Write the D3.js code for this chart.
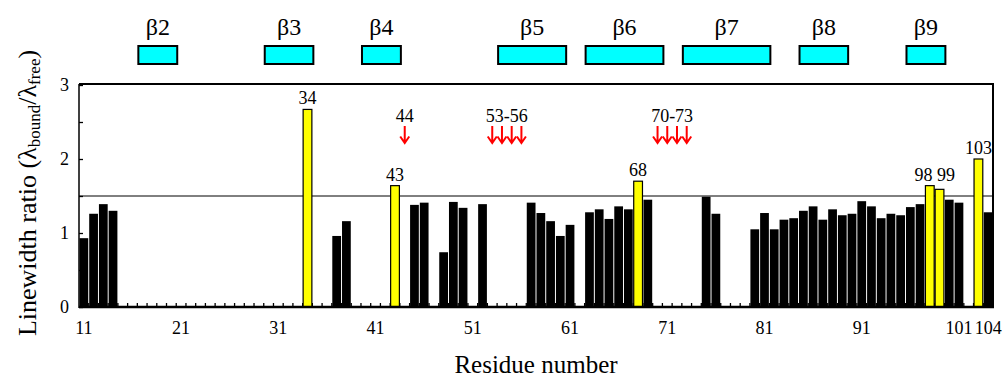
<!DOCTYPE html>
<html>
<head>
<meta charset="utf-8">
<script src="https://cdn.jsdelivr.net/npm/d3@7"></script>
<style>
  html, body { margin: 0; padding: 0; background: #fff; }
  svg { display: block; }
  text { font-family: "Liberation Serif", "Times New Roman", serif; fill: #000; }
</style>
</head>
<body>
<svg id="chart" width="1006" height="381"></svg>
<script>
// ---- Data ----
const residues = [11,12,13,14,34,37,38,43,45,46,48,49,50,52,57,58,59,60,61,63,64,65,66,67,68,69,75,76,80,81,82,83,84,85,86,87,88,89,90,91,92,93,94,95,96,97,98,99,100,101,103,104];
const ratios   = [0.93,1.26,1.39,1.30,2.67,0.96,1.16,1.64,1.38,1.41,0.74,1.42,1.34,1.39,1.41,1.27,1.16,0.96,1.11,1.28,1.32,1.19,1.36,1.32,1.70,1.45,1.49,1.26,1.05,1.27,1.05,1.18,1.20,1.30,1.36,1.18,1.32,1.24,1.26,1.43,1.36,1.20,1.26,1.24,1.35,1.39,1.64,1.59,1.45,1.41,2.00,1.28];
const highlighted = [34,43,68,98,99,103];
const labelTexts = ["34","43","68","98 99","103"];
const labelResidues = [[34],[43],[68],[98,99],[103]];
const arrowTexts = ["44","53-56","70-73"];
const arrowResidues = [[44],[53,54,55,56],[70,71,72,73]];
const ssNames = ["β2","β3","β4","β5","β6","β7","β8","β9"];
const ssStart = [17,30,40,54,63,73,85,96];
const ssEnd   = [20,34,43,60,70,81,89,99];
const xTickValues = [11,21,31,41,51,61,71,81,91,101,104];
const yTickValues = [0,1,2,3];
const yMinorTicks = [0.5,1.5,2.5];
const threshold = 1.5;
const firstRes = 11, lastRes = 104;

// ---- Layout ----
const svg = d3.select("#chart");
const L = 79, R = 993, T = 85, B = 307;
const allRes = d3.range(firstRes, lastRes + 1);
const x = d3.scaleBand().domain(allRes).range([L, R]).paddingInner(0.1).paddingOuter(0.05);
const xLin = d3.scaleLinear().domain([firstRes - 0.5, lastRes + 0.5]).range([L, R]);
const y = d3.scaleLinear().domain([0, 3]).range([B, T]);
const valueOf = new Map(residues.map((r, i) => [r, ratios[i]]));

// minor x ticks at residue boundaries
svg.append("g").selectAll("line").data(d3.range(firstRes, lastRes))
  .join("line")
  .attr("x1", d => xLin(d + 0.5)).attr("x2", d => xLin(d + 0.5))
  .attr("y1", B).attr("y2", B - 4)
  .attr("stroke", "#000").attr("stroke-width", 1.3);

// threshold line
svg.append("line")
  .attr("x1", L).attr("x2", R)
  .attr("y1", y(threshold)).attr("y2", y(threshold))
  .attr("stroke", "#000").attr("stroke-width", 1);

// bars
const bw = xLin(1) - xLin(0);
svg.append("g").selectAll("rect").data(residues)
  .join("rect")
  .attr("x", d => xLin(d) - bw * 0.45)
  .attr("width", bw * 0.9)
  .attr("y", d => y(valueOf.get(d)))
  .attr("height", d => B - y(valueOf.get(d)))
  .attr("fill", d => highlighted.includes(d) ? "#ffff00" : "#000")
  .attr("stroke", "#000")
  .attr("stroke-width", d => highlighted.includes(d) ? 1.2 : 0);

// frame
svg.append("line").attr("x1", L).attr("x2", L).attr("y1", T - 1).attr("y2", B + 1)
  .attr("stroke", "#000").attr("stroke-width", 1.5);
svg.append("line").attr("x1", L).attr("x2", R + 1).attr("y1", T - 1).attr("y2", T - 1)
  .attr("stroke", "#000").attr("stroke-width", 2);
svg.append("line").attr("x1", R).attr("x2", R).attr("y1", T - 1).attr("y2", B + 1)
  .attr("stroke", "#000").attr("stroke-width", 2);
svg.append("line").attr("x1", L).attr("x2", R + 1).attr("y1", B).attr("y2", B)
  .attr("stroke", "#000").attr("stroke-width", 2.5);

// y axis (major with labels, ticks inward)
const yAxis = svg.append("g").attr("transform", `translate(${L},0)`)
  .call(d3.axisLeft(y).tickValues(yTickValues).tickFormat(d3.format("d")).tickSize(-4).tickPadding(10));
yAxis.select(".domain").remove();
yAxis.selectAll("text").style("font-family", '"Liberation Serif", serif').style("font-size", "18px");
yAxis.selectAll("line").attr("stroke-width", 1.3);
const yMinor = svg.append("g").attr("transform", `translate(${L},0)`)
  .call(d3.axisLeft(y).tickValues(yMinorTicks).tickFormat("").tickSize(-4));
yMinor.select(".domain").remove();
yMinor.selectAll("line").attr("stroke-width", 1.3);

// x axis labels
const xAxis = svg.append("g").attr("transform", `translate(0,${B})`)
  .call(d3.axisBottom(x).tickValues(xTickValues).tickSize(0).tickPadding(14));
xAxis.select(".domain").remove();
xAxis.selectAll("text").style("font-family", '"Liberation Serif", serif').style("font-size", "18px");

// value labels above highlighted bars
svg.append("g").selectAll("text").data(labelTexts)
  .join("text")
  .attr("x", (d, i) => xLin(d3.mean(labelResidues[i])))
  .attr("y", (d, i) => y(d3.max(labelResidues[i], r => valueOf.get(r))) - 5)
  .attr("text-anchor", "middle")
  .style("font-size", "18px")
  .text(d => d);

// red arrows for missing residues
const arrowG = svg.append("g");
arrowTexts.forEach((t, i) => {
  const rs = arrowResidues[i];
  arrowG.append("text")
    .attr("x", xLin(d3.mean(rs))).attr("y", 122)
    .attr("text-anchor", "middle").style("font-size", "18px").text(t);
  rs.forEach(r => {
    const cx = xLin(r);
    arrowG.append("path")
      .attr("d", `M${cx},126 L${cx},143 M${cx - 4.5},136.5 L${cx},143 L${cx + 4.5},136.5`)
      .attr("fill", "none").attr("stroke", "#ff0000").attr("stroke-width", 2);
  });
});

// secondary structure boxes
const ssG = svg.append("g");
ssNames.forEach((n, i) => {
  const x0 = xLin(ssStart[i] - 0.5) + 1, x1 = xLin(ssEnd[i] + 0.5) + 1;
  ssG.append("rect")
    .attr("x", x0).attr("y", 46).attr("width", x1 - x0).attr("height", 18)
    .attr("fill", "#00ffff").attr("stroke", "#000").attr("stroke-width", 2);
  ssG.append("text")
    .attr("x", (x0 + x1) / 2).attr("y", 35)
    .attr("text-anchor", "middle").style("font-size", "24px").text(n);
});

// axis titles
svg.append("text")
  .attr("x", 536).attr("y", 373)
  .attr("text-anchor", "middle").style("font-size", "25px")
  .text("Residue number");

const yl = svg.append("text")
  .attr("transform", "translate(36,193) rotate(-90)")
  .attr("text-anchor", "middle").style("font-size", "26px");
yl.append("tspan").text("Linewidth ratio (λ");
yl.append("tspan").attr("dy", 4).style("font-size", "17px").text("bound");
yl.append("tspan").attr("dy", -4).text("/λ");
yl.append("tspan").attr("dy", 4).style("font-size", "17px").text("free");
yl.append("tspan").attr("dy", -4).text(")");
</script>
</body>
</html>
